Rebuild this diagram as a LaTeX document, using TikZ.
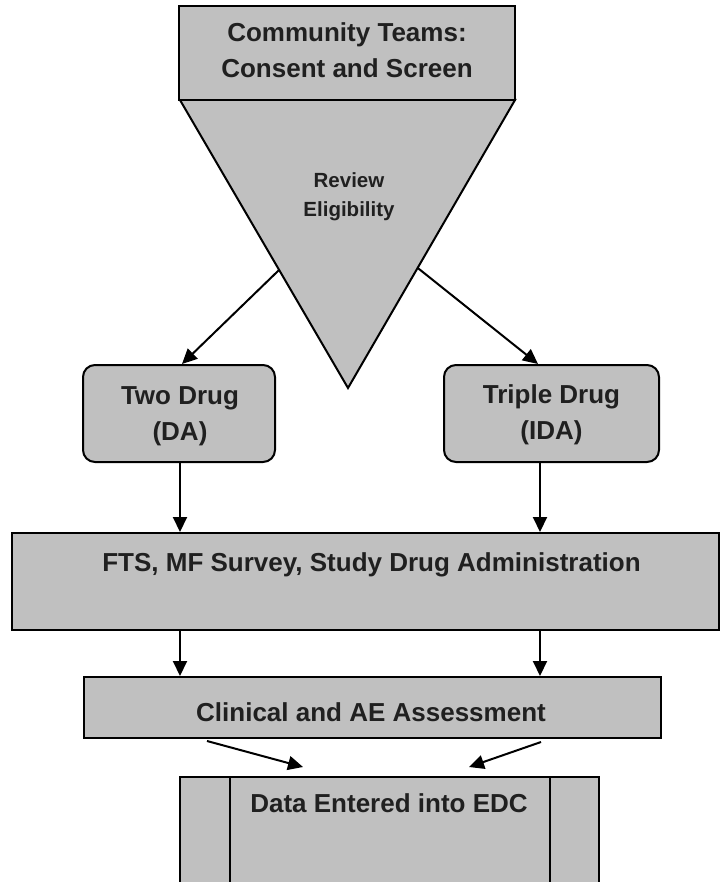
\documentclass[tikz,border=0pt]{standalone}
\usepackage{fontspec}
\setmainfont{Liberation Sans}
\usetikzlibrary{arrows.meta,calc}
\definecolor{boxgray}{HTML}{C0C0C0}
\definecolor{txt}{HTML}{202020}
\begin{document}
\begin{tikzpicture}[x=1pt,y=-1pt,
  box/.style={draw=black,line width=2pt,fill=boxgray,inner sep=0pt},
  rbox/.style={box,rounded corners=12pt},
  lbl/.style={inner sep=0pt,align=center,text=txt,font=\fontsize{26}{36}\selectfont\bfseries},
  slbl/.style={inner sep=0pt,align=center,text=txt,font=\fontsize{20.5}{29}\selectfont\bfseries},
  arr/.style={line width=2pt,-{Triangle[length=15pt,width=14pt]}}]
\useasboundingbox (0,0) rectangle (721,882);
\clip (0,0) rectangle (721,882);
% triangle
\coordinate (tA) at (180,100);
\coordinate (tB) at (515,100);
\coordinate (tC) at (348,388);
\draw[line width=2pt,fill=boxgray,line join=miter] (tA) -- (tB) -- (tC) -- cycle;
% boxes
\node[box,minimum width=336pt,minimum height=94pt] (top) at (347,53) {};
\node[rbox,minimum width=192pt,minimum height=97pt] (two) at (179,413.5) {};
\node[rbox,minimum width=215pt,minimum height=97pt] (triple) at (551.5,413.5) {};
\node[box,minimum width=707pt,minimum height=97pt] (fts) at (365.5,581.5) {};
\node[box,minimum width=577pt,minimum height=61pt] (clin) at (372.5,707.5) {};
\node[box,minimum width=419pt,minimum height=146pt] (edc) at (389.5,850) {};
\draw[line width=1.5pt] ([xshift=51pt]edc.north west) -- ([xshift=51pt]edc.south west);
\draw[line width=1.5pt] ([xshift=-50pt]edc.north east) -- ([xshift=-50pt]edc.south east);
% labels
\node[lbl] (ttop) at (347,50) {Community Teams:\\Consent and Screen};
\node[slbl] (trev) at (349,197) {Review\\Eligibility};
\node[lbl] (ttwo) at (180,416) {Two Drug\\(DA)};
\node[lbl] (ttri) at (551.5,415) {Triple Drug\\(IDA)};
\node[lbl] (tfts) at (371.5,564.7) {FTS, MF Survey, Study Drug Administration};
\node[lbl] (tclin) at (371,712) {Clinical and AE Assessment};
\node[lbl] (tedc) at (389,803) {Data Entered into EDC};
% connectors
\coordinate (colL) at (180,0);
\coordinate (colR) at (540,0);
\coordinate (eL) at ($(tA)!0.59!(tC)$);
\coordinate (eR) at ($(tB)!0.583!(tC)$);
\draw[arr] (eL) -- ([xshift=3pt]two.north);
\draw[arr] (eR) -- ([xshift=-13.5pt]triple.north);
\draw[arr] (colL |- two.south) -- (colL |- fts.north);
\draw[arr] (colR |- triple.south) -- (colR |- fts.north);
\draw[arr] (colL |- fts.south) -- (colL |- clin.north);
\draw[arr] (colR |- fts.south) -- (colR |- clin.north);
\coordinate (dL1) at (207,741);
\coordinate (dL2) at (303,767);
\coordinate (dR1) at (541,742);
\coordinate (dR2) at (469,767);
\draw[arr] (dL1) -- (dL2);
\draw[arr] (dR1) -- (dR2);
\end{tikzpicture}
\end{document}
